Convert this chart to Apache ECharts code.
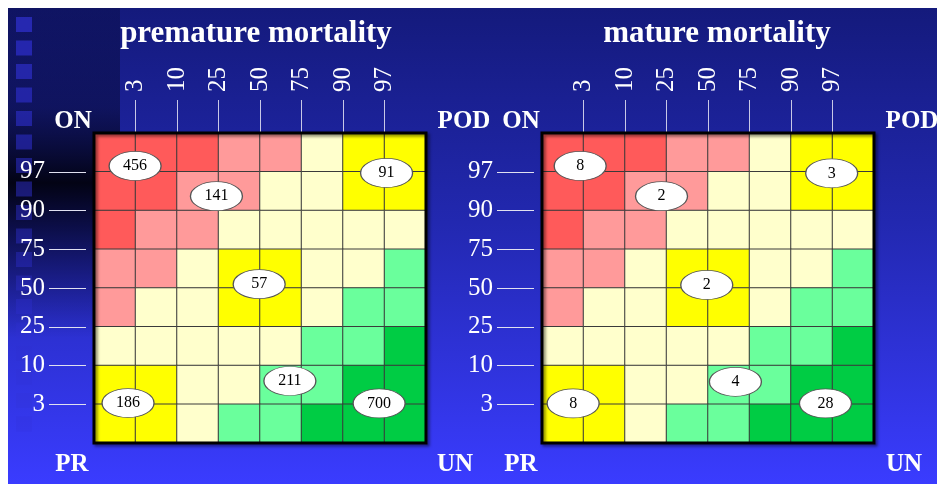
<!DOCTYPE html>
<html>
<head>
<meta charset="utf-8">
<script src="https://cdn.jsdelivr.net/npm/echarts@6/dist/echarts.min.js"></script>
<style>
  html, body { margin: 0; padding: 0; background: #fff; }
  #main { width: 937px; height: 484px; }
</style>
</head>
<body>
<div id="main"></div>
<script>
// percentile ticks, same on both axes
const pctLabels = ['3', '10', '25', '50', '75', '90', '97'];
const cellIndex = [0, 1, 2, 3, 4, 5, 6, 7];

// zone of each cell, top row first
// 0 red, 1 pink, 2 pale yellow, 3 yellow, 4 light green, 5 green
const zoneRows = [
  [0, 0, 0, 1, 1, 2, 3, 3],
  [0, 0, 1, 1, 2, 2, 3, 3],
  [0, 1, 1, 2, 2, 2, 2, 2],
  [1, 1, 2, 3, 3, 2, 2, 4],
  [1, 2, 2, 3, 3, 2, 4, 4],
  [2, 2, 2, 2, 2, 4, 4, 5],
  [3, 3, 2, 2, 4, 4, 5, 5],
  [3, 3, 2, 4, 4, 5, 5, 5]
];

// [x, y, count] in percentile-cell units
const prematureCounts = [
  [0.99, 7.15, 456], [2.95, 6.37, 141], [3.98, 4.1, 57], [4.72, 1.6, 211],
  [0.82, 1.03, 186], [7.05, 6.97, 91], [6.87, 1.02, 700]
];
const matureCounts = [
  [0.92, 7.15, 8], [2.88, 6.37, 2], [3.97, 4.08, 2], [4.66, 1.58, 4],
  [0.75, 1.02, 8], [6.98, 6.96, 3], [6.83, 1.02, 28]
];

const zoneColors = ['#ff5a5a', '#ff9a9a', '#ffffcc', '#ffff00', '#6aff9c', '#00cc44'];
const serif = 'Liberation Serif';

function heatData() {
  let out = [];
  zoneRows.forEach((row, r) => {
    row.forEach((z, c) => out.push([c, zoneRows.length - 1 - r, z]));
  });
  return out;
}

let myChart = echarts.init(document.getElementById('main'));

let grids = [
  { left: 94, top: 133, width: 332, height: 310 },
  { left: 542, top: 133, width: 332, height: 310 }
].map(g => Object.assign(g, {
  show: true,
  z: 10,
  backgroundColor: 'transparent',
  borderColor: '#000',
  borderWidth: 3,
  shadowColor: 'rgba(0,0,0,0.5)',
  shadowBlur: 3,
  shadowOffsetX: 2,
  shadowOffsetY: 2
}));

const ticks = [1, 2, 3, 4, 5, 6, 7];
function catAxis(i) {
  return { type: 'category', gridIndex: i, data: cellIndex, show: false };
}
function topAxis(i) {
  return {
    type: 'value', gridIndex: i, position: 'top', min: 0, max: 8,
    splitLine: { show: false },
    axisLine: { show: false },
    axisTick: { show: true, length: 33, customValues: ticks, lineStyle: { color: '#c8c8e6', width: 1 } },
    axisLabel: {
      customValues: ticks, rotate: -90, margin: 41,
      color: '#fff', fontFamily: serif, fontSize: 25,
      formatter: v => pctLabels[v - 1]
    }
  };
}
function leftAxis(i) {
  return {
    type: 'value', gridIndex: i, position: 'left', offset: 8, min: 0, max: 8,
    splitLine: { show: false },
    axisLine: { show: false },
    axisTick: { show: true, length: 37, customValues: ticks, lineStyle: { color: '#e0e0f0', width: 1 } },
    axisLabel: {
      customValues: ticks, margin: 41,
      color: '#fff', fontFamily: serif, fontSize: 25,
      formatter: v => pctLabels[v - 1]
    }
  };
}
function heatSeries(i) {
  return {
    type: 'heatmap', xAxisIndex: i, yAxisIndex: i, z: 2,
    data: heatData(),
    itemStyle: { borderColor: '#3a3a3a', borderWidth: 1 },
    emphasis: { disabled: true }
  };
}
function bubbleSeries(i, data) {
  return {
    type: 'scatter', xAxisIndex: i + 2, yAxisIndex: i + 2, z: 5,
    data: data,
    symbol: 'circle',
    symbolSize: [52, 29],
    itemStyle: { color: '#fff', borderColor: '#555', borderWidth: 1, opacity: 1 },
    label: {
      show: true, position: 'inside',
      formatter: p => p.value[2],
      color: '#000', fontFamily: serif, fontSize: 16
    },
    emphasis: { disabled: true }
  };
}

// slide background: gradient, dark left strip, squares
let bg = [
  {
    type: 'rect', z: -100, silent: true,
    shape: { x: 8, y: 8, width: 929, height: 476 },
    style: {
      fill: new echarts.graphic.LinearGradient(0, 0, 0, 1, [
        { offset: 0, color: '#141a7c' },
        { offset: 0.45, color: '#2228b0' },
        { offset: 1, color: '#3a3cff' }
      ])
    }
  },
  {
    type: 'rect', z: -99, silent: true,
    shape: { x: 8, y: 8, width: 112, height: 330 },
    style: {
      fill: new echarts.graphic.LinearGradient(0, 0, 0, 1, [
        { offset: 0, color: 'rgba(4,6,40,0.3)' },
        { offset: 0.3, color: 'rgba(2,4,30,0.45)' },
        { offset: 0.53, color: 'rgba(0,0,8,0.92)' },
        { offset: 1, color: 'rgba(0,0,40,0)' }
      ])
    }
  }
];
for (let k = 0; k < 18; k++) {
  bg.push({
    type: 'rect', z: -98, silent: true,
    shape: { x: 16, y: 17 + k * 23.5, width: 16, height: 15 },
    style: { fill: 'rgba(48,48,210,' + (0.7 - k * 0.03) + ')' }
  });
}

let texts = [
  { text: 'premature mortality', x: 256, y: 34, size: 31 },
  { text: 'mature mortality', x: 717, y: 34, size: 31 },
  { text: 'ON', x: 73, y: 122, size: 25 },
  { text: 'POD', x: 464, y: 122, size: 25 },
  { text: 'ON', x: 521, y: 122, size: 25 },
  { text: 'POD', x: 912, y: 122, size: 25 },
  { text: 'PR', x: 72, y: 465, size: 25 },
  { text: 'UN', x: 455, y: 465, size: 25 },
  { text: 'PR', x: 521, y: 465, size: 25 },
  { text: 'UN', x: 904, y: 465, size: 25 }
].map(t => ({
  type: 'text', z: 100, silent: true, x: t.x, y: t.y,
  style: {
    text: t.text, fill: '#fff',
    font: 'bold ' + t.size + 'px "' + serif + '"',
    textAlign: 'center', textVerticalAlign: 'middle'
  }
}));

let option = {
  animation: false,
  grid: grids,
  xAxis: [catAxis(0), catAxis(1), topAxis(0), topAxis(1)],
  yAxis: [catAxis(0), catAxis(1), leftAxis(0), leftAxis(1)],
  visualMap: {
    type: 'piecewise', show: false, dimension: 2, seriesIndex: [0, 2],
    pieces: zoneColors.map((c, i) => ({ value: i, color: c }))
  },
  graphic: bg.concat(texts),
  series: [
    heatSeries(0),
    bubbleSeries(0, prematureCounts),
    heatSeries(1),
    bubbleSeries(1, matureCounts)
  ]
};

option && myChart.setOption(option);
</script>
</body>
</html>
